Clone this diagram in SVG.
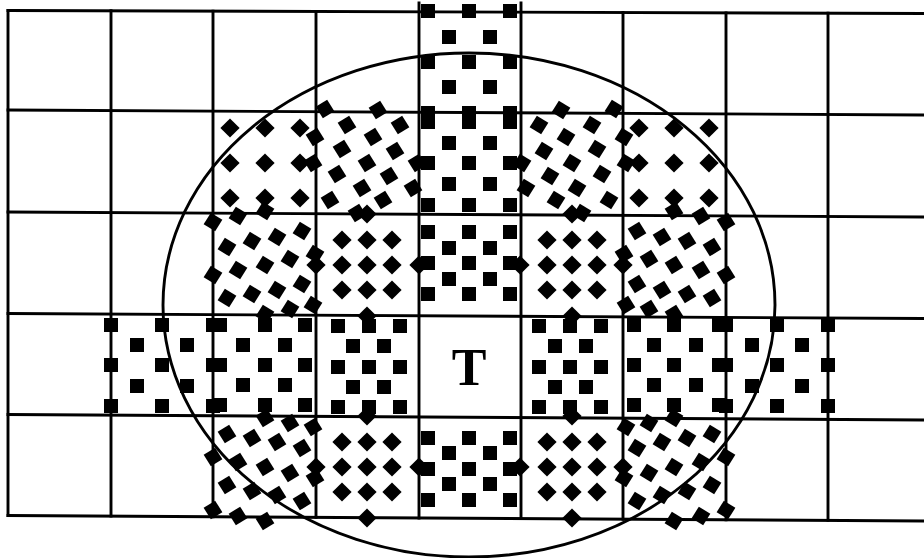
<svg xmlns="http://www.w3.org/2000/svg" width="924" height="558" viewBox="0 0 924 558">
<style>
.ln{stroke:#000;stroke-width:2.9;fill:none;stroke-linecap:square}
.t{font-family:"Liberation Serif","Times New Roman",serif;font-weight:bold;font-size:52px;fill:#000}
</style>
<defs>
<rect id="s" x="-7" y="-7" width="14" height="14"/>
<rect id="d" x="-6.8" y="-6.8" width="13.6" height="13.6" transform="rotate(45)"/>
<rect id="r" x="-6.8" y="-6.8" width="13.6" height="13.6" transform="rotate(32)"/>
<rect id="q" x="-6.8" y="-6.8" width="13.6" height="13.6" transform="rotate(-32)"/>
</defs>
<rect width="924" height="558" fill="#fff"/>
<g id="grid" class="ln">
<line x1="8" y1="10.5" x2="924" y2="13.5"/>
<line x1="8" y1="110" x2="924" y2="115"/>
<line x1="8" y1="212" x2="924" y2="217"/>
<line x1="8" y1="313.5" x2="924" y2="318.5"/>
<line x1="8" y1="414.5" x2="924" y2="420"/>
<line x1="8" y1="515.5" x2="924" y2="521"/>
<line x1="8" y1="10.5" x2="8" y2="515.5"/>
<line x1="111" y1="10.8" x2="111" y2="516.1"/>
<line x1="213" y1="11.2" x2="213" y2="516.7"/>
<line x1="316" y1="11.5" x2="316" y2="517.3"/>
<line x1="419" y1="3" x2="419" y2="518"/>
<line x1="521" y1="3" x2="521" y2="518.6"/>
<line x1="623" y1="12.5" x2="623" y2="519.2"/>
<line x1="726" y1="12.9" x2="726" y2="519.8"/>
<line x1="828" y1="13.2" x2="828" y2="520.4"/>
</g>
<ellipse id="circle" class="ln" cx="469" cy="305" rx="306" ry="252"/>
<g id="markers">
<g id="col4">
<use href="#s" x="428" y="11"/><use href="#s" x="469" y="11"/><use href="#s" x="510" y="11"/>
<use href="#s" x="449" y="37"/><use href="#s" x="490" y="37"/>
<use href="#s" x="428" y="62"/><use href="#s" x="469" y="62"/><use href="#s" x="510" y="62"/>
<use href="#s" x="449" y="87"/><use href="#s" x="490" y="87"/>
<use href="#s" x="428" y="113"/><use href="#s" x="469" y="113"/><use href="#s" x="510" y="113"/>
<use href="#s" x="428" y="122"/><use href="#s" x="469" y="122"/><use href="#s" x="510" y="122"/>
<use href="#s" x="449" y="143"/><use href="#s" x="490" y="143"/>
<use href="#s" x="428" y="163"/><use href="#s" x="469" y="163"/><use href="#s" x="510" y="163"/>
<use href="#s" x="449" y="184"/><use href="#s" x="490" y="184"/>
<use href="#s" x="428" y="205"/><use href="#s" x="469" y="205"/><use href="#s" x="510" y="205"/>
<g id="c42">
<use href="#s" x="428" y="232"/><use href="#s" x="469" y="232"/><use href="#s" x="510" y="232"/>
<use href="#s" x="449" y="248"/><use href="#s" x="490" y="248"/>
<use href="#s" x="428" y="263"/><use href="#s" x="469" y="263"/><use href="#s" x="510" y="263"/>
<use href="#s" x="449" y="279"/><use href="#s" x="490" y="279"/>
<use href="#s" x="428" y="294"/><use href="#s" x="469" y="294"/><use href="#s" x="510" y="294"/>
</g>
<use href="#c42" transform="matrix(1 0 0 -1 0 732)"/>
</g>
<g id="lh">
<g id="c21">
<use href="#d" x="230" y="128"/><use href="#d" x="265" y="128"/><use href="#d" x="300" y="128"/>
<use href="#d" x="230" y="163"/><use href="#d" x="265" y="163"/><use href="#d" x="300" y="163"/>
<use href="#d" x="230" y="198"/><use href="#d" x="265" y="198"/><use href="#d" x="300" y="198"/>
</g>
<g id="c31">
<use href="#q" x="325" y="109"/><use href="#q" x="315" y="137"/><use href="#q" x="313" y="163"/>
<use href="#q" x="347" y="125"/><use href="#q" x="342" y="149"/><use href="#q" x="337" y="174"/><use href="#q" x="330" y="200"/>
<use href="#q" x="378" y="110"/><use href="#q" x="373" y="137"/><use href="#q" x="367" y="163"/><use href="#q" x="362" y="188"/><use href="#q" x="357" y="213"/>
<use href="#q" x="400" y="125"/><use href="#q" x="395" y="151"/><use href="#q" x="389" y="176"/><use href="#q" x="383" y="200"/>
<use href="#q" x="417" y="163"/><use href="#q" x="413" y="188"/>
</g>
<g id="c13">
<use href="#s" x="111" y="325"/><use href="#s" x="162" y="325"/><use href="#s" x="213" y="325"/>
<use href="#s" x="137" y="345"/><use href="#s" x="187" y="345"/>
<use href="#s" x="111" y="365"/><use href="#s" x="162" y="365"/><use href="#s" x="213" y="365"/>
<use href="#s" x="137" y="386"/><use href="#s" x="187" y="386"/>
<use href="#s" x="111" y="406"/><use href="#s" x="162" y="406"/><use href="#s" x="213" y="406"/>
</g>
<g id="c23">
<use href="#s" x="220" y="325"/><use href="#s" x="265" y="325"/><use href="#s" x="305" y="325"/>
<use href="#s" x="243" y="345"/><use href="#s" x="285" y="345"/>
<use href="#s" x="220" y="365"/><use href="#s" x="265" y="365"/><use href="#s" x="305" y="365"/>
<use href="#s" x="243" y="385"/><use href="#s" x="285" y="385"/>
<use href="#s" x="220" y="405"/><use href="#s" x="265" y="405"/><use href="#s" x="305" y="405"/>
</g>
<g id="c33">
<use href="#s" x="338" y="326"/><use href="#s" x="369" y="326"/><use href="#s" x="400" y="326"/>
<use href="#s" x="353" y="346"/><use href="#s" x="384" y="346"/>
<use href="#s" x="338" y="367"/><use href="#s" x="369" y="367"/><use href="#s" x="400" y="367"/>
<use href="#s" x="353" y="387"/><use href="#s" x="384" y="387"/>
<use href="#s" x="338" y="407"/><use href="#s" x="369" y="407"/><use href="#s" x="400" y="407"/>
</g>
<g id="lm">
<g id="c22">
<use href="#r" x="213" y="222"/><use href="#r" x="238" y="216"/><use href="#r" x="265" y="211"/>
<use href="#r" x="227" y="247"/><use href="#r" x="252" y="241"/><use href="#r" x="277" y="237"/><use href="#r" x="302" y="231"/>
<use href="#r" x="213" y="275"/><use href="#r" x="238" y="270"/><use href="#r" x="265" y="265"/><use href="#r" x="290" y="259"/><use href="#r" x="315" y="254"/>
<use href="#r" x="227" y="298"/><use href="#r" x="252" y="294"/><use href="#r" x="277" y="290"/><use href="#r" x="302" y="284"/>
<use href="#r" x="265" y="314"/><use href="#r" x="290" y="309"/><use href="#r" x="313" y="305"/>
</g>
<g id="c32">
<use href="#d" x="342" y="240"/><use href="#d" x="367" y="240"/><use href="#d" x="392" y="240"/>
<use href="#d" x="342" y="265"/><use href="#d" x="367" y="265"/><use href="#d" x="392" y="265"/>
<use href="#d" x="342" y="290"/><use href="#d" x="367" y="290"/><use href="#d" x="392" y="290"/>
<use href="#d" x="367" y="214"/><use href="#d" x="316" y="265"/><use href="#d" x="419" y="265"/><use href="#d" x="367" y="316"/>
</g>
</g>
<use href="#lm" transform="matrix(1 0 0 -1 0 732)"/>
</g>
<use href="#lh" transform="matrix(-1 0 0 1 939 0)"/>
</g>
<text class="t" x="469" y="385" text-anchor="middle">T</text>
</svg>
